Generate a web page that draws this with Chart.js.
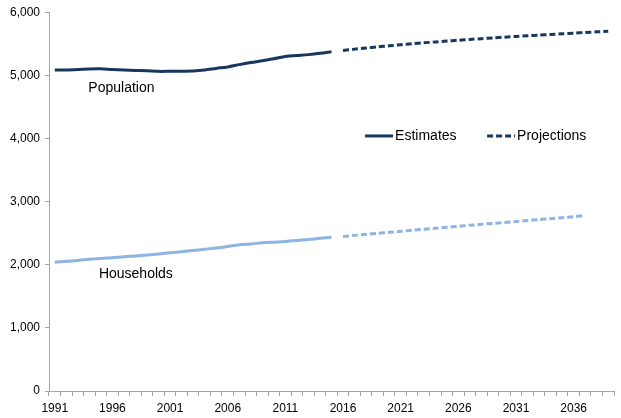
<!DOCTYPE html>
<html>
<head>
<meta charset="utf-8">
<script src="https://cdn.jsdelivr.net/npm/chart.js@4.4.1/dist/chart.umd.min.js"></script>
<style>
  html, body { margin: 0; padding: 0; background: #fff; }
  #wrap { width: 621px; height: 418px; }
</style>
</head>
<body>
<div id="wrap"><canvas id="chart"></canvas></div>
<script>
const years = []
for (let y = 1991; y <= 2039; y++) years.push(String(y))

// thousands
// estimates run 1991-2015, projections start in 2016
const popEstimates = [
  5083, 5086, 5093, 5102, 5104, 5092, 5083, 5077, 5072, 5063,
  5064, 5066, 5069, 5084, 5110, 5133, 5170, 5203, 5232, 5262,
  5300, 5314, 5328, 5348, 5373,
]
const popProjections = [
  5395, 5415, 5433, 5451, 5468, 5484, 5500, 5515, 5529, 5543,
  5556, 5569, 5581, 5593, 5605, 5616, 5627, 5638, 5648, 5658,
  5668, 5679, 5689, 5699,
]
const hhEstimates = [
  2040, 2055, 2068, 2085, 2100, 2112, 2128, 2140, 2155, 2170,
  2190, 2207, 2225, 2245, 2265, 2290, 2318, 2330, 2347, 2358,
  2368, 2385, 2400, 2418, 2435,
]
const hhProjections = [
  2449, 2465, 2481, 2497, 2513, 2529, 2545, 2561, 2577, 2593,
  2609, 2625, 2640, 2655, 2670, 2685, 2700, 2715, 2730, 2745,
  2762, 2778,
]
const yTicks = [0, 1000, 2000, 3000, 4000, 5000, 6000]

const navy = "#17375E"
const light = "#8DB4E2"
const axisGrey = "#A6A6A6"
const font = "Arial, 'Liberation Sans', sans-serif"
const firstProjection = popEstimates.length

// pad series out to the full year range
const estimatesRow = (vals) => years.map((_, i) => (i < vals.length ? vals[i] : null))
const projectionsRow = (vals) =>
  years.map((_, i) => {
    const k = i - firstProjection
    return k >= 0 && k < vals.length ? vals[k] : null
  })

const labelsPlugin = {
  id: "labels",
  afterDatasetsDraw(chart) {
    const { ctx } = chart
    const x = chart.scales.x
    const y = chart.scales.y
    ctx.save()
    ctx.fillStyle = "#000"
    ctx.textBaseline = "middle"
    ctx.textAlign = "left"
    ctx.font = "14px " + font
    ctx.fillText("Population", x.getPixelForValue(3) - 1, y.getPixelForValue(4790))
    ctx.fillText("Households", x.getPixelForValue(4) - 2, y.getPixelForValue(1850))

    // legend
    const ly = y.getPixelForValue(4040)
    const lx = x.getPixelForValue(27) - 1
    ctx.lineWidth = 3
    ctx.strokeStyle = navy
    ctx.beginPath()
    ctx.moveTo(lx, ly)
    ctx.lineTo(lx + 28, ly)
    ctx.stroke()
    ctx.fillText("Estimates", lx + 30, ly)

    const dx = lx + 122
    ctx.setLineDash([6, 3])
    ctx.beginPath()
    ctx.moveTo(dx, ly)
    ctx.lineTo(dx + 28, ly)
    ctx.stroke()
    ctx.setLineDash([])
    ctx.fillText("Projections", dx + 30, ly)
    ctx.restore()
  },
}

const line = (data, color, dashed) => ({
  data: data,
  borderColor: color,
  backgroundColor: color,
  borderWidth: 3,
  borderDash: dashed ? [6, 3] : [],
  pointRadius: 0,
  tension: 0.3,
  spanGaps: false,
  fill: false,
})

new Chart(document.getElementById("chart"), {
  type: "line",
  data: {
    labels: years,
    datasets: [
      line(estimatesRow(popEstimates), navy, false),
      line(projectionsRow(popProjections), navy, true),
      line(estimatesRow(hhEstimates), light, false),
      line(projectionsRow(hhProjections), light, true),
    ],
  },
  options: {
    responsive: true,
    maintainAspectRatio: false,
    animation: false,
    layout: { padding: { top: 11, right: 7, left: 0, bottom: 0 } },
    plugins: {
      legend: { display: false },
      tooltip: { enabled: false },
    },
    scales: {
      x: {
        offset: true,
        grid: {
          offset: true,
          drawOnChartArea: false,
          tickLength: 5,
          color: axisGrey,
        },
        border: { color: axisGrey },
        ticks: {
          autoSkip: false,
          maxRotation: 0,
          padding: 5,
          color: "#000",
          font: { family: font, size: 12 },
          callback: (v, i) => (i % 5 === 0 ? years[i] : ""),
        },
        afterFit(scale) { scale.height = 27 },
      },
      y: {
        min: 0,
        max: 6000,
        afterBuildTicks(scale) { scale.ticks = yTicks.map((v) => ({ value: v })) },
        grid: {
          drawOnChartArea: false,
          tickLength: 4,
          color: axisGrey,
        },
        border: { color: axisGrey },
        ticks: {
          padding: 5,
          color: "#000",
          font: { family: font, size: 12 },
          callback: (v) => v.toLocaleString("en-GB"),
        },
        afterFit(scale) { scale.width = 49 },
      },
    },
  },
  plugins: [labelsPlugin],
})
</script>
</body>
</html>
